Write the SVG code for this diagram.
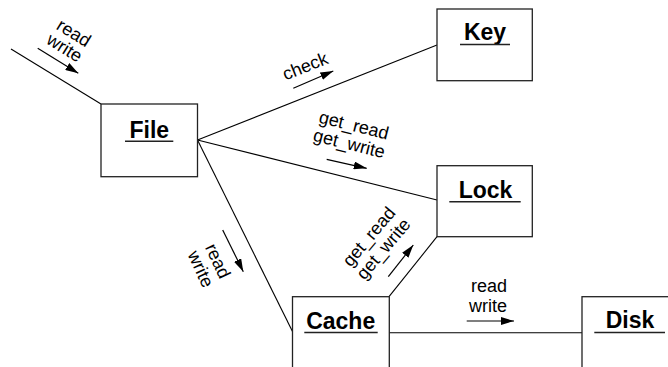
<svg xmlns="http://www.w3.org/2000/svg" width="668" height="367" viewBox="0 0 668 367">
<style>
.box{fill:#fff;stroke:#222;stroke-width:1.3}
.name{font-family:"Liberation Sans",Arial,sans-serif;font-weight:bold;font-size:23px;fill:#000;text-anchor:middle}
.ul{stroke:#222;stroke-width:1.6}
.conn{stroke:#000;stroke-width:1.1;fill:none}
.arr{stroke:#000;stroke-width:1.2;fill:none;marker-end:url(#ah)}
.lbl{font-family:"Liberation Sans",Arial,sans-serif;font-size:18px;fill:#000;text-anchor:middle}
</style>
<defs>
<marker id="ah" markerWidth="13" markerHeight="8" refX="13" refY="4" orient="auto" markerUnits="userSpaceOnUse">
<path d="M0,0 L13,4 L0,8 z" fill="#000"/>
</marker>
</defs>
<rect width="668" height="367" fill="#fff"/>
<g id="connectors">
<line class="conn" x1="11" y1="49" x2="101" y2="104"/>
<line class="conn" x1="197.5" y1="140" x2="437" y2="45"/>
<line class="conn" x1="197.5" y1="140" x2="437" y2="200"/>
<line class="conn" x1="197.5" y1="140" x2="292.5" y2="331.5"/>
<line class="conn" x1="389" y1="296.7" x2="437" y2="236.7"/>
<line class="conn" x1="389" y1="332.7" x2="582" y2="332.7"/>
<line class="arr" x1="37.7" y1="48.3" x2="78.3" y2="73.3"/>
<line class="arr" x1="293.3" y1="88.3" x2="333.3" y2="71"/>
<line class="arr" x1="326.7" y1="159.3" x2="366.7" y2="168.3"/>
<line class="arr" x1="222.7" y1="230" x2="243.3" y2="271.7"/>
<line class="arr" x1="388.3" y1="276.7" x2="413.3" y2="245"/>
<line class="arr" x1="466.7" y1="321" x2="514" y2="321"/>
<g transform="translate(70.6,38) rotate(32)"><text class="lbl" x="0" y="0">read</text><text class="lbl" x="0" y="17.5">write</text></g>
<g transform="translate(307.4,71.8) rotate(-21.6)"><text class="lbl" x="0" y="0">check</text></g>
<g transform="translate(352.4,131) rotate(14)"><text class="lbl" x="0" y="0">get_read</text><text class="lbl" x="0" y="19">get_write</text></g>
<g transform="translate(212.4,263.5) rotate(65)"><text class="lbl" x="0" y="0">read</text><text class="lbl" x="0" y="19">write</text></g>
<g transform="translate(373.5,240.5) rotate(-50)"><text class="lbl" x="0" y="0">get_read</text><text class="lbl" x="0" y="19">get_write</text></g>
<text class="lbl" x="489" y="291.5">read</text>
<text class="lbl" x="488" y="311.5">write</text>
</g>
<g id="file">
<rect class="box" x="101" y="104" width="96.5" height="72.7"/>
<text class="name" x="149.3" y="137.7">File</text>
<line class="ul" x1="125" y1="141.2" x2="173.3" y2="141.2"/>
</g>
<g id="key">
<rect class="box" x="437" y="9" width="95.3" height="71.7"/>
<text class="name" x="485" y="39.5">Key</text>
<line class="ul" x1="460" y1="44.5" x2="510" y2="44.5"/>
</g>
<g id="lock">
<rect class="box" x="437" y="165.7" width="95.3" height="71"/>
<text class="name" x="485.5" y="197.7">Lock</text>
<line class="ul" x1="449.3" y1="201.7" x2="520.7" y2="201.7"/>
</g>
<g id="cache">
<rect class="box" x="292.5" y="296.7" width="96.8" height="80"/>
<text class="name" x="340.7" y="329.3">Cache</text>
<line class="ul" x1="304.3" y1="332.5" x2="377.7" y2="332.5"/>
</g>
<g id="disk">
<rect class="box" x="582" y="296.7" width="96" height="80"/>
<text class="name" x="630" y="327.7">Disk</text>
<line class="ul" x1="594.3" y1="332.5" x2="665" y2="332.5"/>
</g>
</svg>
